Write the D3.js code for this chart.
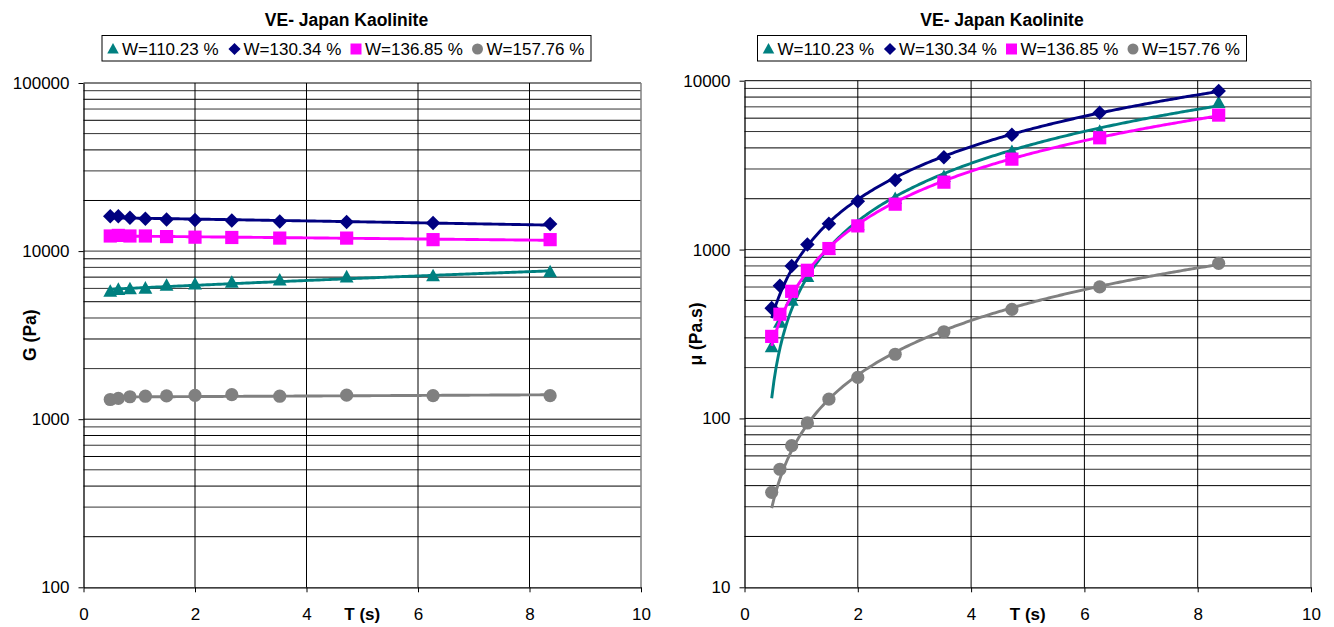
<!DOCTYPE html>
<html><head><meta charset="utf-8">
<script src="https://cdn.jsdelivr.net/npm/d3@7"></script>
<style>body{margin:0;background:#fff}svg{font-family:Arial,"Liberation Sans",sans-serif}</style>
</head><body><svg id="c" width="1334" height="627"></svg>
<script>
// ---- data ----
const T = [0.48, 0.625, 0.833, 1.11, 1.49, 2.0, 2.66, 3.52, 4.72, 6.27, 8.37];
const seriesNames = ["W=110.23 %", "W=130.34 %", "W=136.85 %", "W=157.76 %"];
// G (Pa)
const G_110 = [5750, 5900, 5950, 6000, 6250, 6350, 6500, 6700, 7000, 7100, 7500];
const G_130 = [16100, 16100, 15800, 15600, 15400, 15300, 15200, 15000, 14900, 14700, 14500];
const G_136 = [12300, 12400, 12300, 12300, 12200, 12100, 12050, 11950, 11950, 11700, 11700];
const G_157 = [1310, 1330, 1360, 1370, 1375, 1385, 1400, 1370, 1390, 1380, 1380];
// mu (Pa.s)
const MU_110 = [265, 370, 500, 690, 1000, 1400, 2000, 2700, 3800, 5000, 7400];
const MU_130 = [450, 610, 800, 1070, 1420, 1930, 2580, 3520, 4780, 6450, 8700];
const MU_136 = [306, 414, 566, 754, 1014, 1381, 1857, 2507, 3431, 4592, 6257];
const MU_157 = [36.5, 50, 69, 94, 130, 175, 240, 326, 442, 601, 829];
// axes
const xTicks = [0, 2, 4, 6, 8, 10];
const gTicks = [100, 1000, 10000, 100000];
const muTicks = [10, 100, 1000, 10000];
const titleText = "VE- Japan Kaolinite";

const colors = ["#008080", "#000080", "#FF00FF", "#808080"];
const shapes = ["triangle", "diamond", "square", "circle"];

const svg = d3.select("#c");

function markerPath(shape, r) {
  if (shape === "diamond") return `M0,${-r*1.1}L${r*1.1},0L0,${r*1.1}L${-r*1.1},0Z`;
  if (shape === "square") return `M${-r},${-r}H${r}V${r}H${-r}Z`;
  if (shape === "triangle") { const h = r * 1.9; return `M0,${-h*0.58}L${r*1.05},${h*0.42}L${-r*1.05},${h*0.42}Z`; }
  return d3.symbol().type(d3.symbolCircle).size(Math.PI * r * r)();
}

function linFit(xs, ys) {
  const n = xs.length, mx = d3.mean(xs), my = d3.mean(ys);
  let sxy = 0, sxx = 0;
  for (let i = 0; i < n; i++) { sxy += (xs[i]-mx)*(ys[i]-my); sxx += (xs[i]-mx)**2; }
  const b = sxy / sxx, a = my - b * mx;
  return x => a + b * x;
}

function panel(o) {
  const g = svg.append("g");
  const x = d3.scaleLinear().domain([0, 10]).range([o.x0, o.x1]);
  const y = d3.scaleLog().domain(o.ydom).range([o.y1, o.y0]);
  const hvals = [];
  for (let d = o.ydom[0]; d < o.ydom[1]; d *= 10) for (let k = 1; k < 10; k++) hvals.push(d * k);
  hvals.push(o.ydom[1]);
  g.selectAll(".hg").data(hvals.slice(1)).join("line")
    .attr("x1", o.x0).attr("x2", o.x1).attr("y1", d => y(d)).attr("y2", d => y(d))
    .attr("stroke", (d, i) => i % 2 ? "#333" : "#000").attr("stroke-width", 1);
  g.selectAll(".vg").data(xTicks.slice(1, -1)).join("line")
    .attr("x1", d => x(d)).attr("x2", d => x(d)).attr("y1", o.y0).attr("y2", o.y1)
    .attr("stroke", "#000").attr("stroke-width", 1);
  g.append("line").attr("x1", o.x1).attr("x2", o.x1).attr("y1", o.y0).attr("y2", o.y1)
    .attr("stroke", "#808080").attr("stroke-width", 1.5);
  const ax = d3.axisBottom(x).tickValues(xTicks).tickSize(5).tickSizeOuter(0).tickFormat(d3.format("d"));
  const xa = g.append("g").attr("transform", `translate(0,${o.y1})`).call(ax);
  xa.select(".domain").attr("stroke", "#000").attr("stroke-width", 1.3);
  xa.selectAll("text").attr("font-size", 17).attr("fill", "#000").attr("dy", null).attr("y", 0)
    .attr("transform", "translate(0,33)");
  const ay = d3.axisLeft(y).tickValues(o.yticks).tickSize(5).tickSizeOuter(0).tickFormat(d3.format("d"));
  const ya = g.append("g").attr("transform", `translate(${o.x0},0)`).call(ay);
  ya.select(".domain").attr("stroke", "#000").attr("stroke-width", 1.3);
  ya.selectAll("text").attr("font-size", 17).attr("fill", "#000").attr("x", -14);
  svg.append("text").attr("x", o.cx).attr("y", 26).attr("text-anchor", "middle")
    .attr("font-size", 17.5).attr("font-weight", "bold").text(titleText);
  svg.append("text").attr("x", (o.x0 + o.x1) / 2).attr("y", o.y1 + 33).attr("text-anchor", "middle")
    .attr("font-size", 17).attr("font-weight", "bold").text("T (s)");
  svg.append("text").attr("transform", `translate(${o.ylx},${(o.y0 + o.y1) / 2}) rotate(-90)`)
    .attr("text-anchor", "middle").attr("font-size", 17.5).attr("font-weight", "bold").text(o.ylabel);
  const lw = 489, lx = o.cx - lw / 2;
  const lg = svg.append("g");
  lg.append("rect").attr("x", lx).attr("y", 35.5).attr("width", lw).attr("height", 25.5)
    .attr("fill", "#fff").attr("stroke", "#000").attr("stroke-width", 1);
  seriesNames.forEach((nm, i) => {
    const mx = lx + 11 + i * 121.5;
    lg.append("path").attr("d", markerPath(shapes[i], 5.5)).attr("transform", `translate(${mx},49)`)
      .attr("fill", colors[i]);
    lg.append("text").attr("x", mx + 9).attr("y", 55).attr("font-size", 17).text(nm);
  });
  o.data.forEach((vals, i) => {
    const f = linFit(T, vals);
    const pts = d3.range(0, 201).map(k => T[0] + (T[T.length-1] - T[0]) * k / 200);
    g.append("path").datum(pts)
      .attr("d", d3.line().x(d => x(d)).y(d => y(Math.max(f(d), o.ydom[0]))))
      .attr("fill", "none").attr("stroke", colors[i]).attr("stroke-width", 2.9);
    g.selectAll(null).data(vals).join("path")
      .attr("d", markerPath(shapes[i], 6.6))
      .attr("transform", (d, j) => `translate(${x(T[j])},${y(d)})`)
      .attr("fill", colors[i]);
  });
}

panel({ x0: 83.5, x1: 641, y0: 83, y1: 587.3, ydom: [100, 100000], yticks: gTicks,
  cx: 346.5, ylx: 36, ylabel: "G (Pa)", data: [G_110, G_130, G_136, G_157] });
panel({ x0: 744.5, x1: 1311, y0: 80.7, y1: 587.3, ydom: [10, 10000], yticks: muTicks,
  cx: 1002, ylx: 702, ylabel: "μ (Pa.s)", data: [MU_110, MU_130, MU_136, MU_157] });
</script></body></html>
